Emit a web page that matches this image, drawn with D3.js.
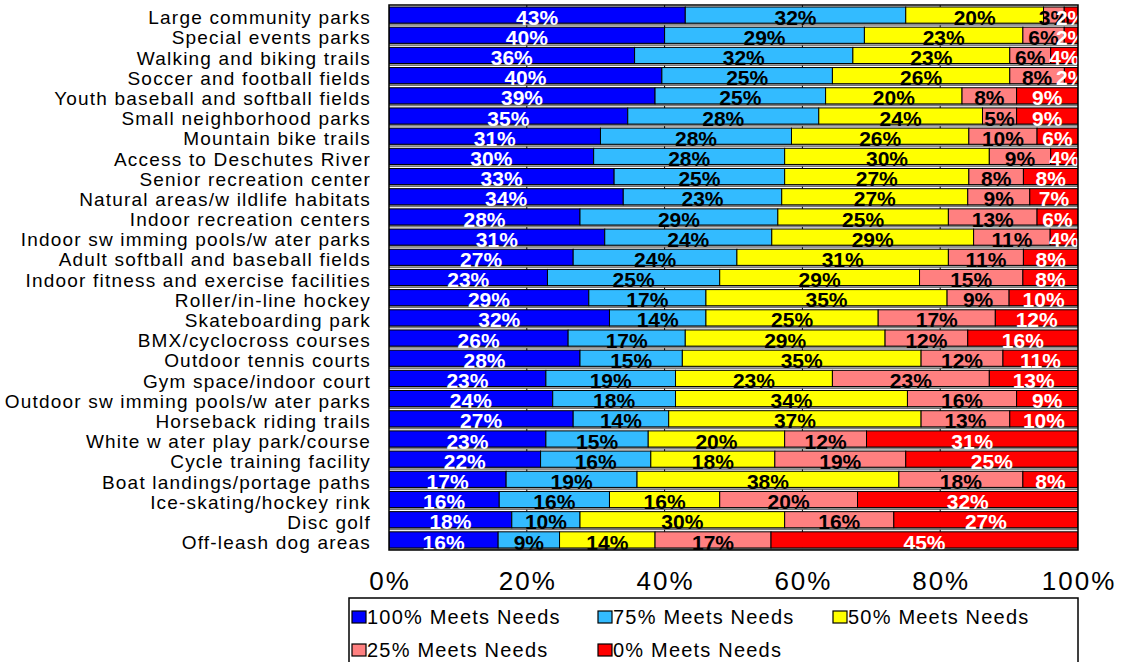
<!DOCTYPE html>
<html><head><meta charset="utf-8">
<script src="https://cdn.jsdelivr.net/npm/d3@7"></script>
<style>body{margin:0;background:#fff;}svg{display:block;font-family:"Liberation Sans",Arial,sans-serif;}</style>
</head><body>
<svg id="chart" width="1129" height="662"></svg>
<script>
const categories = ["Large community parks","Special events parks","Walking and biking trails","Soccer and football fields","Youth baseball and softball fields","Small neighborhood parks","Mountain bike trails","Access to Deschutes River","Senior recreation center","Natural areas/w ildlife habitats","Indoor recreation centers","Indoor sw imming pools/w ater parks","Adult softball and baseball fields","Indoor fitness and exercise facilities","Roller/in-line hockey","Skateboarding park","BMX/cyclocross courses","Outdoor tennis courts","Gym space/indoor court","Outdoor sw imming pools/w ater parks","Horseback riding trails","White w ater play park/course","Cycle training facility","Boat landings/portage paths","Ice-skating/hockey rink","Disc golf","Off-leash dog areas"];
const seriesNames = ["100% Meets Needs","75% Meets Needs","50% Meets Needs","25% Meets Needs","0% Meets Needs"];
const meets100 = [43,40,36,40,39,35,31,30,33,34,28,31,27,23,29,32,26,28,23,24,27,23,22,17,16,18,16];
const meets75  = [32,29,32,25,25,28,28,28,25,23,29,24,24,25,17,14,17,15,19,18,14,15,16,19,16,10,9];
const meets50  = [20,23,23,26,20,24,26,30,27,27,25,29,31,29,35,25,29,35,23,34,37,20,18,38,16,30,14];
const meets25  = [3,6,6,8,8,5,10,9,8,9,13,11,11,15,9,17,12,12,23,16,13,12,19,18,20,16,17];
const meets0   = [2,2,4,2,9,9,6,4,8,7,6,4,8,8,10,12,16,11,13,9,10,31,25,8,32,27,45];
const tickLabels = ["0%","20%","40%","60%","80%","100%"];
const colors = ["#0000FF","#33BBFF","#FFFF00","#FF8080","#FF0000"];
const labelColors = ["#fff","#000","#000","#000","#fff"];

const svg = d3.select("#chart");
const L = 389, R = 1078, T = 5, B = 550;
const x = d3.scaleLinear().domain([0,100]).range([L,R]);
const y = d3.scaleBand().domain(categories).range([T,B]).paddingInner(0).paddingOuter(0);
const series = [meets100,meets75,meets50,meets25,meets0];
const rows = categories.map((c,i)=>{
  const tot = d3.sum(series, s=>s[i]);
  let acc=0; return series.map((s,k)=>{const v=s[i]; const seg={cat:c,k,v,x0:acc/tot*100,x1:(acc+v)/tot*100}; acc+=v; return seg;});
});

svg.append("defs").append("clipPath").attr("id","clip").append("rect")
  .attr("x",L).attr("y",T).attr("width",R-L).attr("height",B-T);

// gridlines
svg.append("g").selectAll("line").data([20,40,60,80]).join("line")
  .attr("x1",d=>x(d)).attr("x2",d=>x(d)).attr("y1",T).attr("y2",B)
  .attr("stroke","#000").attr("stroke-width",1);

const bw = y.bandwidth();
const plot = svg.append("g").attr("clip-path","url(#clip)");
// bottom shadow strip for each row
plot.selectAll("rect.shadow").data(categories).join("rect").attr("class","shadow")
  .attr("x",L).attr("width",R-L)
  .attr("y",d=>y(d)+bw*0.9).attr("height",2)
  .attr("fill","#999").attr("stroke","#444").attr("stroke-width",0.6);

const rowG = plot.selectAll("g.row").data(rows).join("g").attr("class","row");
rowG.selectAll("rect").data(d=>d).join("rect")
  .attr("x",d=>x(d.x0)).attr("width",d=>x(d.x1)-x(d.x0))
  .attr("y",d=>y(d.cat)+2).attr("height",bw*0.8)
  .attr("fill",d=>colors[d.k]).attr("stroke","#000").attr("stroke-width",1);

// value labels
const lab = svg.append("g");
rows.forEach(r=>r.forEach(d=>{
  lab.append("text").attr("x",x((d.x0+d.x1)/2)).attr("y",y(d.cat)+bw-0.5)
    .attr("text-anchor","middle").attr("font-weight","bold").attr("font-size",21)
    .attr("fill",labelColors[d.k]).text(d.v+"%");
}));

// frame
svg.append("rect").attr("x",L).attr("y",T).attr("width",R-L).attr("height",B-T)
  .attr("fill","none").attr("stroke","#000").attr("stroke-width",1.5);

// category labels
svg.append("g").selectAll("text").data(categories).join("text")
  .attr("x",371).attr("y",d=>y(d)+bw/2+2.5).attr("dy","0.35em")
  .attr("text-anchor","end").attr("font-size",19).attr("letter-spacing","1.2px")
  .attr("fill","#000").text(d=>d);

// x tick labels
svg.append("g").selectAll("text").data(tickLabels).join("text")
  .attr("x",(d,i)=>x(i*20)+1).attr("y",590).attr("text-anchor","middle")
  .attr("font-size",26).attr("letter-spacing","2px").attr("fill","#000").text(d=>d);

// legend
svg.append("rect").attr("x",349).attr("y",598).attr("width",729).attr("height",80)
  .attr("fill","#fff").attr("stroke","#000").attr("stroke-width",1.5);
const legPos = [[352,617],[598,617],[833,617],[352,650],[598,650]];
const lg = svg.append("g").selectAll("g").data(seriesNames).join("g")
  .attr("transform",(d,i)=>`translate(${legPos[i][0]},${legPos[i][1]})`);
lg.append("rect").attr("x",0).attr("y",-6).attr("width",14).attr("height",12)
  .attr("fill",(d,i)=>colors[i]).attr("stroke","#000").attr("stroke-width",1.2);
lg.append("text").attr("x",15).attr("y",0).attr("dy","0.35em").attr("font-size",20)
  .attr("letter-spacing","1.2px").text(d=>d);
</script>
</body></html>
